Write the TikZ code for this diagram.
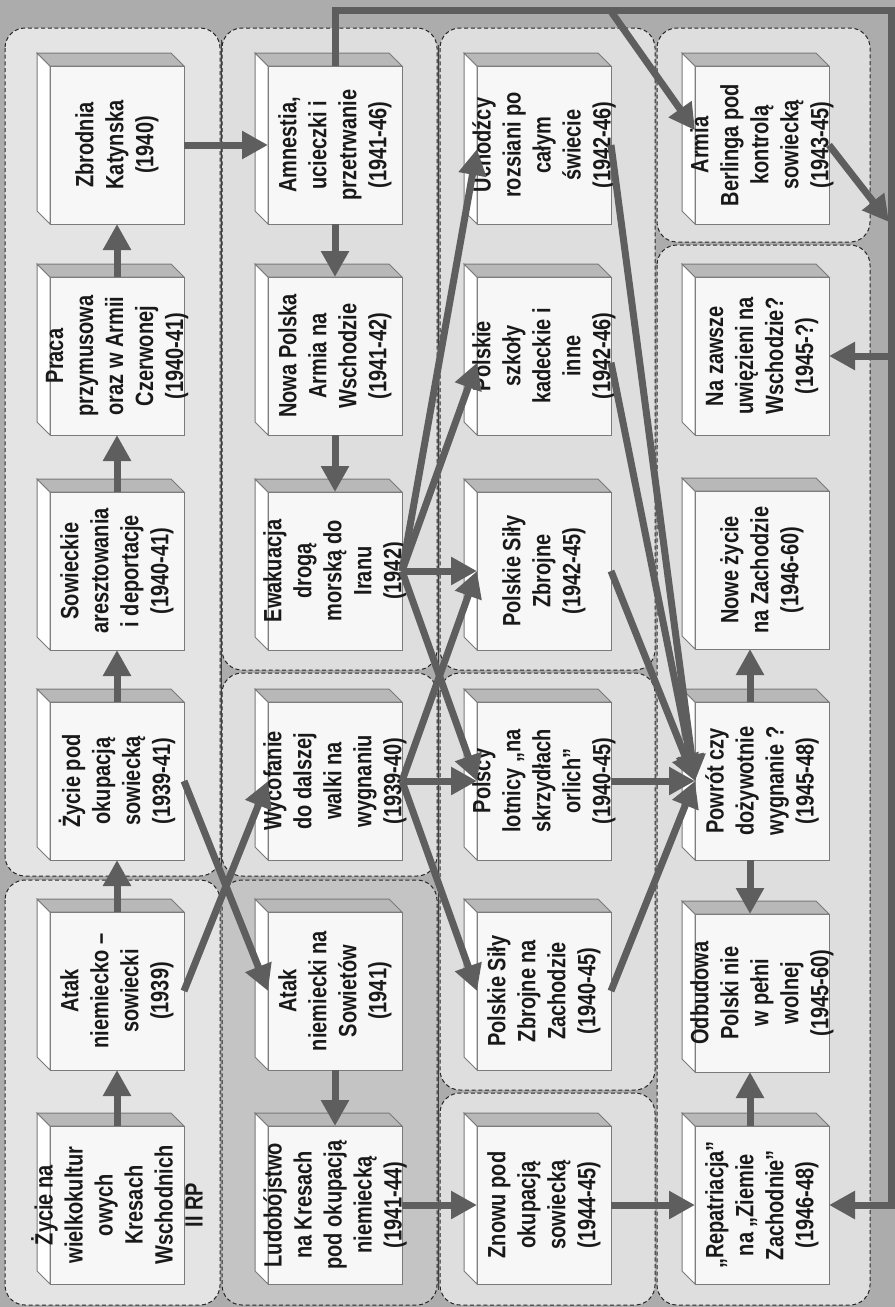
\documentclass[tikz,border=0pt]{standalone}
\usepackage{fontspec}
\newfontfamily\boxfamily{Liberation Sans}[FakeStretch=0.8]
\usetikzlibrary{arrows.meta,calc}
\definecolor{bgcol}{HTML}{ACACAC}
\definecolor{grpfill}{HTML}{DEDEDE}
\definecolor{grpdark}{HTML}{C4C4C4}
\definecolor{grplight}{HTML}{E4E4E4}
\definecolor{boxface}{HTML}{F7F7F7}
\definecolor{boxtop}{HTML}{B8B8B8}
\definecolor{boxedge}{HTML}{7A7A7A}
\definecolor{conncol}{HTML}{5E5E5E}
\newcommand\mybox[4]{%
  \node[tbface] (#1) at (#2,#3) {};
  \filldraw[fill=white, draw=boxedge, line width=0.75pt] (#1.north west) -- ++(-13,-13) -- ($(#1.south west)+(-13,-13)$) -- (#1.south west) -- cycle;
  \filldraw[fill=boxtop, draw=boxedge, line width=0.75pt] (#1.north west) -- ++(-13,-13) -- ($(#1.north east)+(-13,-13)$) -- (#1.north east) -- cycle;
  \node[tbtext] (#1t) at (#1.center) {#4};
}
\begin{document}
\begin{tikzpicture}[x=0.75pt,y=-0.75pt,
  tbface/.style={draw=boxedge, fill=boxface, line width=0.75pt, minimum width=100.5pt, minimum height=118.5pt, inner sep=0pt, outer sep=0pt},
  tbtext/.style={rotate=90, align=center, font=\boxfamily\bfseries\fontsize{18.75}{22.5}\selectfont, text=black!90, inner sep=0pt},
  conn/.style={draw=conncol, line width=5.25pt, line join=miter, -{Triangle[length=19.5pt,width=20pt]}},
  cline/.style={draw=conncol, line width=5.25pt, line join=miter},
  grp/.style={draw=black!85, dash pattern=on 3pt off 2pt, line width=0.75pt, rounded corners=15pt, fill=#1},
  grp/.default=grpfill]
\useasboundingbox (0,0) rectangle (895,1307);
\fill[bgcol] (0,0) rectangle (895,1307);
% groups
\draw[grp=grplight] (5,28) rectangle (220,876);
\draw[grp=grplight] (5,880) rectangle (220,1305);
\draw[grp] (222,28) rectangle (437,670);
\draw[grp] (222,673) rectangle (437,876);
\draw[grp=grpdark] (222,880) rectangle (437,1305);
\draw[grp] (440,28) rectangle (655,670);
\draw[grp] (440,673) rectangle (655,1090);
\draw[grp] (440,1093) rectangle (655,1305);
\draw[grp] (657,28) rectangle (870,242);
\draw[grp] (657,245) rectangle (870,1305);
\draw[black!75, line width=0.6pt] (221,40) -- (221,868);
\draw[black!75, line width=0.6pt] (438,45) -- (438,1290);
% boxes
\mybox{c11}{117}{145}{Zbrodnia\\Katynska\\(1940)}
\mybox{c12}{117}{356}{Praca\\przymusowa\\oraz w Armii\\Czerwonej\\(1940-41)}
\mybox{c13}{117}{571}{Sowieckie\\aresztowania\\i deportacje\\(1940-41)}
\mybox{c14}{117}{781}{Życie pod\\okupacją\\sowiecką\\(1939-41)}
\mybox{c15}{117}{991}{Atak\\niemiecko –\\sowiecki\\(1939)}
\mybox{c16}{117}{1205}{Życie na\\wielkokultur\\owych\\Kresach\\Wschodnich\\II RP}
\mybox{c21}{335}{145}{Amnestia,\\ucieczki i\\przetrwanie\\(1941-46)}
\mybox{c22}{335}{356}{Nowa Polska\\Armia na\\Wschodzie\\(1941-42)}
\mybox{c23}{335}{571}{Ewakuacja\\drogą\\morską do\\Iranu\\(1942)}
\mybox{c24}{335}{781}{Wycofanie\\do dalszej\\walki na\\wygnaniu\\(1939-40)}
\mybox{c25}{335}{991}{Atak\\niemiecki na\\Sowietów\\(1941)}
\mybox{c26}{335}{1205}{Ludobójstwo\\na Kresach\\pod okupacją\\niemiecką\\(1941-44)}
\mybox{c31}{544}{145}{Uchodźcy\\rozsiani po\\całym\\świecie\\(1942-46)}
\mybox{c32}{544}{356}{Polskie\\szkoły\\kadeckie i\\inne\\(1942-46)}
\mybox{c33}{544}{571}{Polskie Siły\\Zbrojne\\(1942-45)}
\mybox{c34}{544}{781}{Polscy\\lotnicy „na\\skrzydłach\\orlich”\\(1940-45)}
\mybox{c35}{544}{991}{Polskie Siły\\Zbrojne na\\Zachodzie\\(1940-45)}
\mybox{c36}{544}{1205}{Znowu pod\\okupacją\\sowiecką\\(1944-45)}
\mybox{c41}{762}{145}{Armia\\Berlinga pod\\kontrolą\\sowiecką\\(1943-45)}
\mybox{c42}{762}{356}{Na zawsze\\uwięzieni na\\Wschodzie?\\(1945-?)}
\mybox{c43}{762}{570}{Nowe życie\\na Zachodzie\\(1946-60)}
\mybox{c44}{762}{781}{Powrót czy\\dożywotnie\\wygnanie ?\\(1945-48)}
\mybox{c45}{762}{993}{Odbudowa\\Polski nie\\w pełni\\wolnej\\(1945-60)}
\mybox{c46}{762}{1205}{„Repatriacja”\\na „Ziemie\\Zachodnie”\\(1946-48)}
% column 1 chain
\draw[conn] (c16.north) -- (c15.south);
\draw[conn] (c15.north) -- (c14.south);
\draw[conn] (c14.north) -- (c13.south);
\draw[conn] (c13.north) -- (c12.south);
\draw[conn] (c12.north) -- (c11.south);
\draw[conn] (c11.east) -- (c21.west);
% column 2
\draw[conn] (c21.south) -- (c22.north);
\draw[conn] (c22.south) -- (c23.north);
\draw[conn] (c15.east) -- (c24.west);
\draw[conn] (c14.east) -- (c25.west);
\draw[conn] (c25.south) -- (c26.north);
\draw[conn] (c26.east) -- (c36.west);
\draw[conn] (c36.east) -- (c46.west);
% fan-out from Ewakuacja
\draw[conn] (c23.east) -- ([yshift=-3pt]c31.west);
\draw[conn] (c23.east) -- ([yshift=-5pt]c32.west);
\draw[conn] (c23.east) -- (c33.west);
\draw[conn] (c23.east) -- (c34.west);
% fan-out from Wycofanie
\draw[conn] (c24.east) -- (c33.west);
\draw[conn] (c24.east) -- (c34.west);
\draw[conn] (c24.east) -- (c35.west);
% into Powrot
\draw[conn] (c31.east) -- (c44.west);
\draw[conn] ([yshift=-5pt]c32.east) -- (c44.west);
\draw[conn] (c33.east) -- (c44.west);
\draw[conn] (c34.east) -- (c44.west);
\draw[conn] (c35.east) -- (c44.west);
% column 4
\draw[conn] ([xshift=-9pt]c44.north) -- ([xshift=-9pt]c43.south);
\draw[conn] ([xshift=-9pt]c44.south) -- ([xshift=-9pt]c45.north);
\draw[conn] ([xshift=-9pt]c46.north) -- ([xshift=-9pt]c45.south);
% long connector
\coordinate (tl) at (c21.north |- 0,10);
\coordinate (tr) at (891,10);
\coordinate (bs) at (610,10);
\coordinate (j1) at (889,222);
\draw[conn] (c21.north) -- (tl) -- (tr) -- (tr |- c46.east) -- (c46.east);
\draw[conn] (bs) -- ([yshift=11pt]c41.west);
\draw[conn] (tr |- c42.east) -- (c42.east);
\draw[conn] (c41.east) -- (j1);
\end{tikzpicture}
\end{document}
